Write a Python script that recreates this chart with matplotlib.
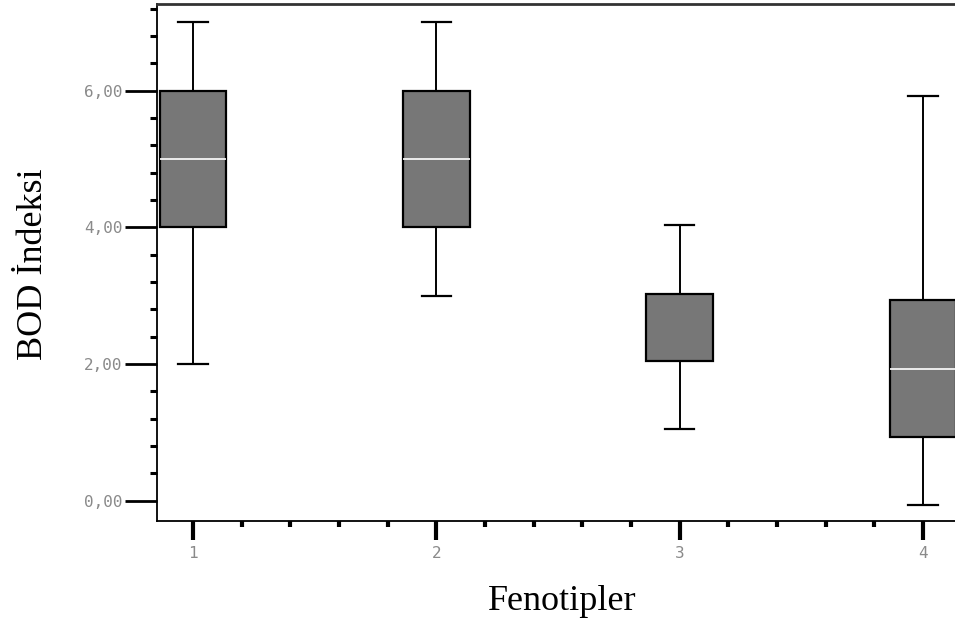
import numpy as np
import matplotlib.pyplot as plt
from matplotlib.ticker import FixedLocator, MultipleLocator, FuncFormatter

# box statistics (SPSS style boxplot)
groups = [1, 2, 3, 4]
whislo = [2.0, 3.0, 1.04, -0.06]
q1 = [4.0, 4.0, 2.04, 0.93]
med = [5.0, 5.0, 3.03, 1.93]
q3 = [6.0, 6.0, 3.03, 2.93]
whishi = [7.0, 7.0, 4.04, 5.93]

y_ticks = [0, 2, 4, 6]

stats = []
for i, g in enumerate(groups):
    stats.append(dict(label=str(g), whislo=whislo[i], q1=q1[i], med=med[i],
                      q3=q3[i], whishi=whishi[i], fliers=[]))

fig = plt.figure(figsize=(9.55, 6.25), dpi=100)
# axes runs off the right edge of the picture like the original
ax = fig.add_axes([157 / 955, 1 - 521 / 625, 820 / 955, 517 / 625])

bp = ax.bxp(stats, positions=groups, widths=0.275, patch_artist=True,
            showfliers=False, capwidths=0.12,
            boxprops=dict(facecolor="#777777", edgecolor="black", linewidth=1.6),
            whiskerprops=dict(color="black", linewidth=1.4),
            capprops=dict(color="black", linewidth=1.6),
            medianprops=dict(color="white", linewidth=1.2))
for p in bp["boxes"]:
    p.set_zorder(3)
for m in bp["medians"]:
    m.set_zorder(4)
# median of group 3 sits on the box edge, hide it under the patch
bp["medians"][2].set_zorder(1)

ax.set_xlim(0.852, 4.222)
ax.set_ylim(-0.3, 7.27)

ax.yaxis.set_major_locator(FixedLocator(y_ticks))
ax.yaxis.set_minor_locator(MultipleLocator(0.4))
ax.yaxis.set_major_formatter(FuncFormatter(lambda v, p: f"{v:.2f}".replace(".", ",")))
ax.xaxis.set_major_locator(FixedLocator(groups))
ax.xaxis.set_minor_locator(MultipleLocator(0.2))
ax.set_xticklabels([str(g) for g in groups])

ax.tick_params(axis="y", which="major", direction="out", length=23, width=2.0,
               labelsize=11.5, labelcolor="#8a8a8a", pad=2)
ax.tick_params(axis="y", which="minor", direction="out", length=5, width=2.2)
ax.tick_params(axis="x", which="major", direction="out", length=14, width=3.0,
               labelsize=11.5, labelcolor="#8a8a8a", pad=4)
ax.tick_params(axis="x", which="minor", direction="out", length=4, width=3.0)
for lab in ax.get_yticklabels() + ax.get_xticklabels():
    lab.set_family("DejaVu Sans Mono")

for s in ["left", "bottom"]:
    ax.spines[s].set_linewidth(1.3)
ax.spines["top"].set_linewidth(2.0)
ax.spines["top"].set_color("#333333")
ax.spines["right"].set_visible(False)

ax.set_ylabel("BOD İndeksi", family="Liberation Serif", fontsize=26)
ax.set_xlabel("Fenotipler", family="Liberation Serif", fontsize=26)
ax.yaxis.set_label_coords(-0.131, 0.497)
ax.xaxis.set_label_coords(0.494, -0.124)

fig.savefig("out.png", dpi=100)
